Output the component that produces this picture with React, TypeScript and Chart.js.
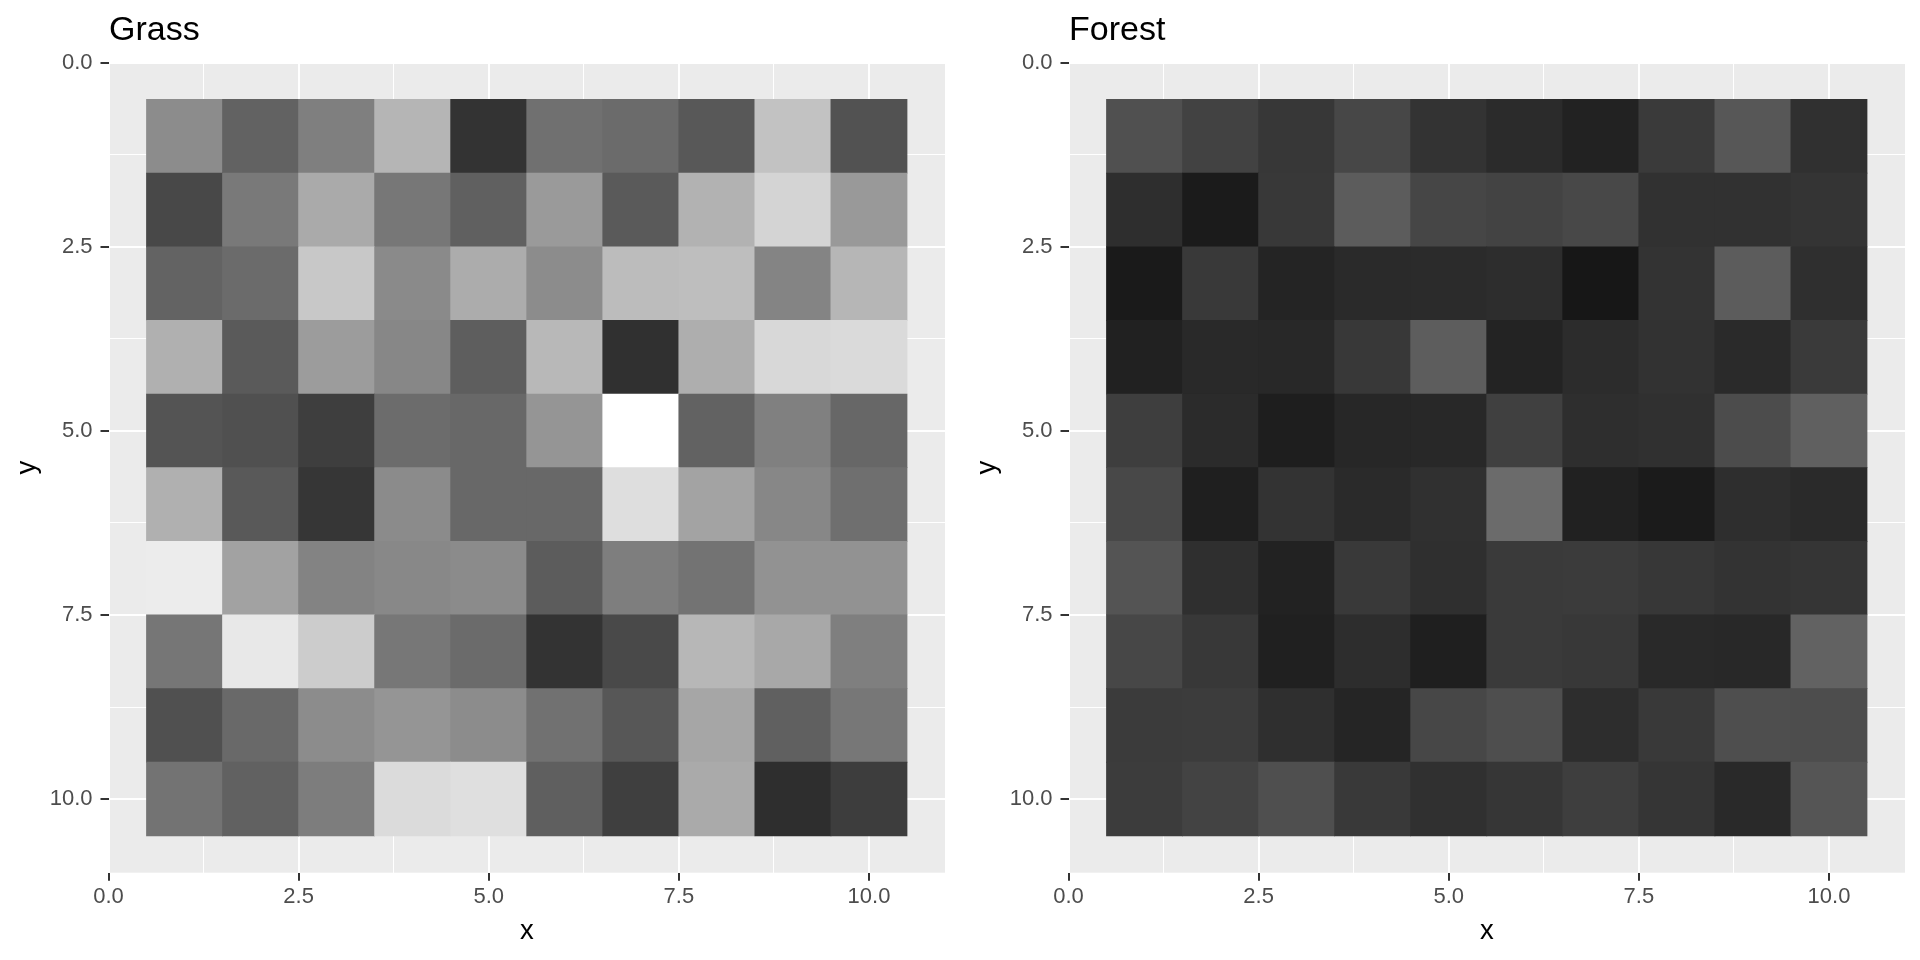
import React, { useEffect, useRef } from "react";
import { Chart, registerables } from "chart.js";

Chart.register(...registerables);

// ---- data ----
const xCats = [1, 2, 3, 4, 5, 6, 7, 8, 9, 10];
const yCats = [1, 2, 3, 4, 5, 6, 7, 8, 9, 10];
const majorTicks = [0, 2.5, 5, 7.5, 10];
const minorTicks = [1.25, 3.75, 6.25, 8.75];

// grey level (0-255) per cell, one array per y row, columns follow xCats
const grassGrey = [
  [140, 98, 127, 181, 51, 112, 107, 88, 194, 82],
  [72, 121, 170, 119, 96, 154, 90, 178, 212, 153],
  [99, 107, 200, 138, 172, 140, 188, 190, 132, 182],
  [176, 90, 156, 135, 94, 184, 48, 174, 216, 218],
  [84, 80, 62, 108, 104, 149, 255, 98, 128, 103],
  [176, 89, 54, 139, 104, 104, 222, 163, 135, 111],
  [236, 162, 131, 136, 139, 92, 126, 115, 146, 146],
  [118, 232, 204, 119, 107, 51, 73, 183, 168, 127],
  [80, 105, 140, 149, 140, 113, 87, 166, 96, 119],
  [115, 97, 125, 219, 223, 95, 63, 170, 46, 61],
];

const forestGrey = [
  [80, 66, 55, 71, 51, 43, 34, 58, 87, 48],
  [46, 27, 56, 92, 70, 67, 72, 49, 49, 52],
  [26, 57, 36, 42, 43, 45, 23, 51, 92, 47],
  [33, 41, 40, 56, 93, 35, 44, 50, 42, 58],
  [62, 43, 30, 39, 40, 64, 46, 48, 76, 96],
  [72, 31, 51, 42, 48, 107, 33, 27, 46, 42],
  [84, 47, 34, 57, 47, 58, 59, 55, 51, 53],
  [71, 56, 32, 45, 31, 58, 56, 41, 40, 98],
  [59, 60, 47, 37, 71, 78, 45, 57, 78, 77],
  [60, 67, 79, 57, 48, 54, 62, 53, 41, 85],
];

const panelTitles = ["Grass", "Forest"];
const xTitle = "x";
const yTitle = "y";

// ---- styling ----
const FONT = '"Liberation Sans", Arial, sans-serif';
const allTicks = [...majorTicks, ...minorTicks].sort((a, b) => a - b);
const isMajor = (v: number) => majorTicks.some((m) => Math.abs(m - v) < 1e-9);

const panelBg = {
  id: "panelBg",
  beforeDraw(chart: any) {
    const { ctx, chartArea } = chart;
    ctx.save();
    ctx.fillStyle = "#EBEBEB";
    ctx.fillRect(chartArea.left, chartArea.top, chartArea.right - chartArea.left, chartArea.bottom - chartArea.top);
    ctx.restore();
  },
};

const panelTitle = {
  id: "panelTitle",
  afterDraw(chart: any, _args: any, opts: any) {
    const { ctx, chartArea } = chart;
    ctx.save();
    ctx.fillStyle = "#000000";
    ctx.font = `34px ${FONT}`;
    ctx.textAlign = "left";
    ctx.textBaseline = "alphabetic";
    ctx.fillText(opts.text, chartArea.left + 0.5, 40.3);
    ctx.restore();
  },
};

function buildDataset(grid: number[][]) {
  const data: any[] = [];
  const colors: string[] = [];
  yCats.forEach((yv, r) => {
    xCats.forEach((xv, c) => {
      data.push({ x: xv, y: [yv - 0.5, yv + 0.5] });
      const g = grid[r][c];
      colors.push(`rgb(${g},${g},${g})`);
    });
  });
  return {
    data,
    backgroundColor: colors,
    borderWidth: 0,
    grouped: false,
    barPercentage: 1,
    categoryPercentage: 1,
    inflateAmount: 0.4,
  };
}

function axis(isX: boolean) {
  return {
    type: "linear",
    min: 0,
    max: 11,
    reverse: !isX,
    offset: false,
    afterBuildTicks: (s: any) => {
      s.ticks = allTicks.map((v) => ({ value: v }));
    },
    afterFit: (s: any) => {
      if (isX) s.height = 87.3;
      else s.width = 108.5;
    },
    border: { display: false },
    grid: {
      offset: false,
      color: "#FFFFFF",
      lineWidth: (c: any) => (c.tick && isMajor(c.tick.value) ? 2 : 1),
      drawTicks: true,
      tickLength: 8,
      tickWidth: 2,
      tickColor: (c: any) => (c.tick && isMajor(c.tick.value) ? "#333333" : "rgba(0,0,0,0)"),
    },
    ticks: {
      autoSkip: false,
      maxRotation: 0,
      padding: isX ? 3.3 : 8,
      color: "#4D4D4D",
      font: { family: FONT, size: 22 },
      callback: (v: number) => (isMajor(v) ? v.toFixed(1) : ""),
    },
    title: {
      display: true,
      text: isX ? xTitle : yTitle,
      color: "#000000",
      font: { family: FONT, size: 27.5 },
      padding: isX ? { top: 0, bottom: 12.3 } : { top: 10.5, bottom: 0 },
    },
  };
}

function Panel({ grid, title }: { grid: number[][]; title: string }) {
  const ref = useRef<HTMLCanvasElement>(null);
  useEffect(() => {
    const chart = new Chart(ref.current as HTMLCanvasElement, {
      type: "bar",
      data: { datasets: [buildDataset(grid) as any] },
      options: {
        animation: false,
        responsive: false,
        devicePixelRatio: 1,
        layout: { padding: { top: 62.7, right: 15, bottom: 0, left: 0 } },
        scales: { x: axis(true) as any, y: axis(false) as any },
        plugins: {
          legend: { display: false },
          tooltip: { enabled: false },
          panelTitle: { text: title },
        } as any,
      },
      plugins: [panelBg, panelTitle],
    });
    return () => chart.destroy();
  }, [grid, title]);
  return <canvas ref={ref} width={960} height={960} style={{ display: "block", width: 960, height: 960 }} />;
}

export default function App() {
  return (
    <div style={{ position: "absolute", left: 0, top: 0, width: 1920, height: 960, display: "flex", background: "#FFFFFF" }}>
      <Panel grid={grassGrey} title={panelTitles[0]} />
      <Panel grid={forestGrey} title={panelTitles[1]} />
    </div>
  );
}
